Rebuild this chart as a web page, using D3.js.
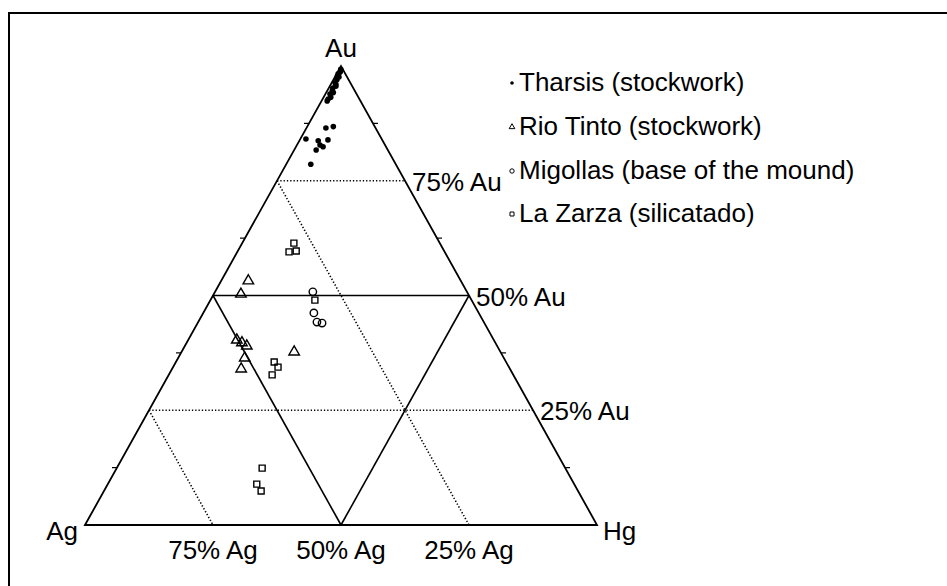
<!DOCTYPE html>
<html><head><meta charset="utf-8">
<script src="https://cdn.jsdelivr.net/npm/d3@7"></script>
<style>html,body{margin:0;padding:0;background:#fff;}svg{display:block;}</style>
</head><body>
<svg id="chart" width="947" height="586"></svg>
<script>
// Data: [Au %, Hg %] (Ag = 100 - Au - Hg)
const tharsis = [[99.3,0.3],[98.7,0.5],[98.3,0.3],[97.8,0.4],[97.6,0.8],[97.0,0.7],[96.3,0.7],[96.0,1.0],[95.6,1.2],[95.2,0.8],[94.6,1.0],[94.2,1.4],[93.9,0.9],[93.2,1.4],[92.8,1.1],[92.4,1.1],
  [86.5,3.8],[86.8,5.1],[84.1,1.1],[83.7,3.7],[83.9,5.5],[82.8,4.5],[81.7,4.3],[82.4,5.3],[78.6,4.8]];
const rioTinto = [[53.2,5.3],[50.3,5.3],[40.3,9.5],[39.7,10.8],[39.0,12.1],[36.4,13.0],[34.0,13.5],[37.7,22.0]];
const migollas = [[50.8,19.1],[46.2,21.6],[44.2,23.2],[44.0,24.3]];
const laZarza = [[61.4,10.1],[59.5,10.1],[59.7,11.4],[49.0,20.4],[35.5,19.2],[34.4,20.5],[32.7,20.2],[12.4,28.4],[8.9,29.1],[7.4,30.7]];
const seriesNames = ["Tharsis (stockwork)","Rio Tinto (stockwork)","Migollas (base of the mound)","La Zarza (silicatado)"];
const auTicks = ["75% Au","50% Au","25% Au"];
const agTicks = ["75% Ag","50% Ag","25% Ag"];
const vertexLabels = ["Au","Ag","Hg"];

(function(){
const svg = d3.select("#chart");
const FONT = "'Liberation Sans', Arial, Helvetica, sans-serif";

// ternary projection via linear scales
const yScale = d3.scaleLinear().domain([0,100]).range([525,66]);
const xHg = d3.scaleLinear().domain([0,100]).range([85,597]);
const xAuShift = d3.scaleLinear().domain([0,100]).range([0,256]);
const proj = (au,hg) => [xHg(hg) + xAuShift(au), yScale(au)];

// frame
svg.append("path").attr("d","M9,590 L9,13 L950,13").attr("fill","none").attr("stroke","#000").attr("stroke-width",2);

const line = d3.line();
const g = svg.append("g");
// outer triangle
g.append("path").attr("d", line([proj(0,0),proj(100,0),proj(0,100)]) + "Z")
  .attr("fill","none").attr("stroke","#000").attr("stroke-width",1.8).attr("stroke-linejoin","miter");
// inner solid 50% lines
[[[50,0],[50,50]],[[50,0],[0,50]],[[50,50],[0,50]]].forEach(s=>{
  g.append("path").attr("d", line(s.map(p=>proj(p[0],p[1])))).attr("fill","none").attr("stroke","#000").attr("stroke-width",1.6);
});
// dotted 25/75 lines
[[[75,0],[75,25]],[[25,0],[25,75]],[[75,0],[0,75]],[[25,0],[0,25]]].forEach(s=>{
  g.append("path").attr("d", line(s.map(p=>proj(p[0],p[1])))).attr("fill","none").attr("stroke","#000")
   .attr("stroke-width",1.6).attr("stroke-dasharray","1.3,2");
});
// small ticks on left and right edges
[12.5,37.5,62.5,87.5].forEach(t=>{
  const L = proj(t,0), R = proj(t,100-t);
  g.append("line").attr("x1",L[0]).attr("y1",L[1]).attr("x2",L[0]-5).attr("y2",L[1]).attr("stroke","#000").attr("stroke-width",1.2);
  g.append("line").attr("x1",R[0]).attr("y1",R[1]).attr("x2",R[0]+5).attr("y2",R[1]).attr("stroke","#000").attr("stroke-width",1.2);
});

// markers
const tri = d3.symbol().type(d3.symbolTriangle).size(48);
const sq = d3.symbol().type(d3.symbolSquare).size(36);
g.selectAll(".th").data(tharsis).enter().append("circle")
  .attr("cx",d=>proj(d[0],d[1])[0]).attr("cy",d=>proj(d[0],d[1])[1]).attr("r",2.8).attr("fill","#000");
g.selectAll(".rt").data(rioTinto).enter().append("path").attr("d",tri)
  .attr("transform",d=>{const p=proj(d[0],d[1]);return `translate(${p[0]},${p[1]})`;})
  .attr("fill","none").attr("stroke","#000").attr("stroke-width",1.4);
g.selectAll(".mg").data(migollas).enter().append("circle")
  .attr("cx",d=>proj(d[0],d[1])[0]).attr("cy",d=>proj(d[0],d[1])[1]).attr("r",3.7)
  .attr("fill","none").attr("stroke","#000").attr("stroke-width",1.4);
g.selectAll(".lz").data(laZarza).enter().append("path").attr("d",sq)
  .attr("transform",d=>{const p=proj(d[0],d[1]);return `translate(${p[0]},${p[1]})`;})
  .attr("fill","none").attr("stroke","#000").attr("stroke-width",1.4);

// text labels
const txt = (x,y,s,anchor) => svg.append("text").attr("x",x).attr("y",y).attr("text-anchor",anchor||"start")
  .attr("font-family",FONT).attr("font-size",26).attr("fill","#000").text(s);

const auV = proj(100,0);
txt(auV[0], auV[1]-9, vertexLabels[0], "middle");
const agV = proj(0,0), hgV = proj(0,100);
txt(agV[0]-7, agV[1]+15, vertexLabels[1], "end");
txt(hgV[0]+6, hgV[1]+15, vertexLabels[2], "start");

[75,50,25].forEach((v,i)=>{
  const p = proj(v,100-v);
  txt(p[0]+7, p[1]+10, auTicks[i], "start");
});
[75,50,25].forEach((v,i)=>{
  const p = proj(0,100-v);
  txt(p[0], p[1]+34, agTicks[i], "middle");
});

// legend
const legY = [91,135,179,222];
const legX = 512;
seriesNames.forEach((n,i)=>{
  txt(legX+7, legY[i], n, "start");
  const cy = legY[i]-8;
  if(i===0) svg.append("circle").attr("cx",legX).attr("cy",cy).attr("r",1.8).attr("fill","#000");
  if(i===1) svg.append("path").attr("d",d3.symbol().type(d3.symbolTriangle).size(14)).attr("transform",`translate(${legX},${cy})`).attr("fill","none").attr("stroke","#000").attr("stroke-width",1);
  if(i===2) svg.append("circle").attr("cx",legX).attr("cy",cy).attr("r",2.2).attr("fill","none").attr("stroke","#000").attr("stroke-width",1);
  if(i===3) svg.append("path").attr("d",d3.symbol().type(d3.symbolSquare).size(16)).attr("transform",`translate(${legX},${cy})`).attr("fill","none").attr("stroke","#000").attr("stroke-width",1);
});
})();
</script>
</body></html>
